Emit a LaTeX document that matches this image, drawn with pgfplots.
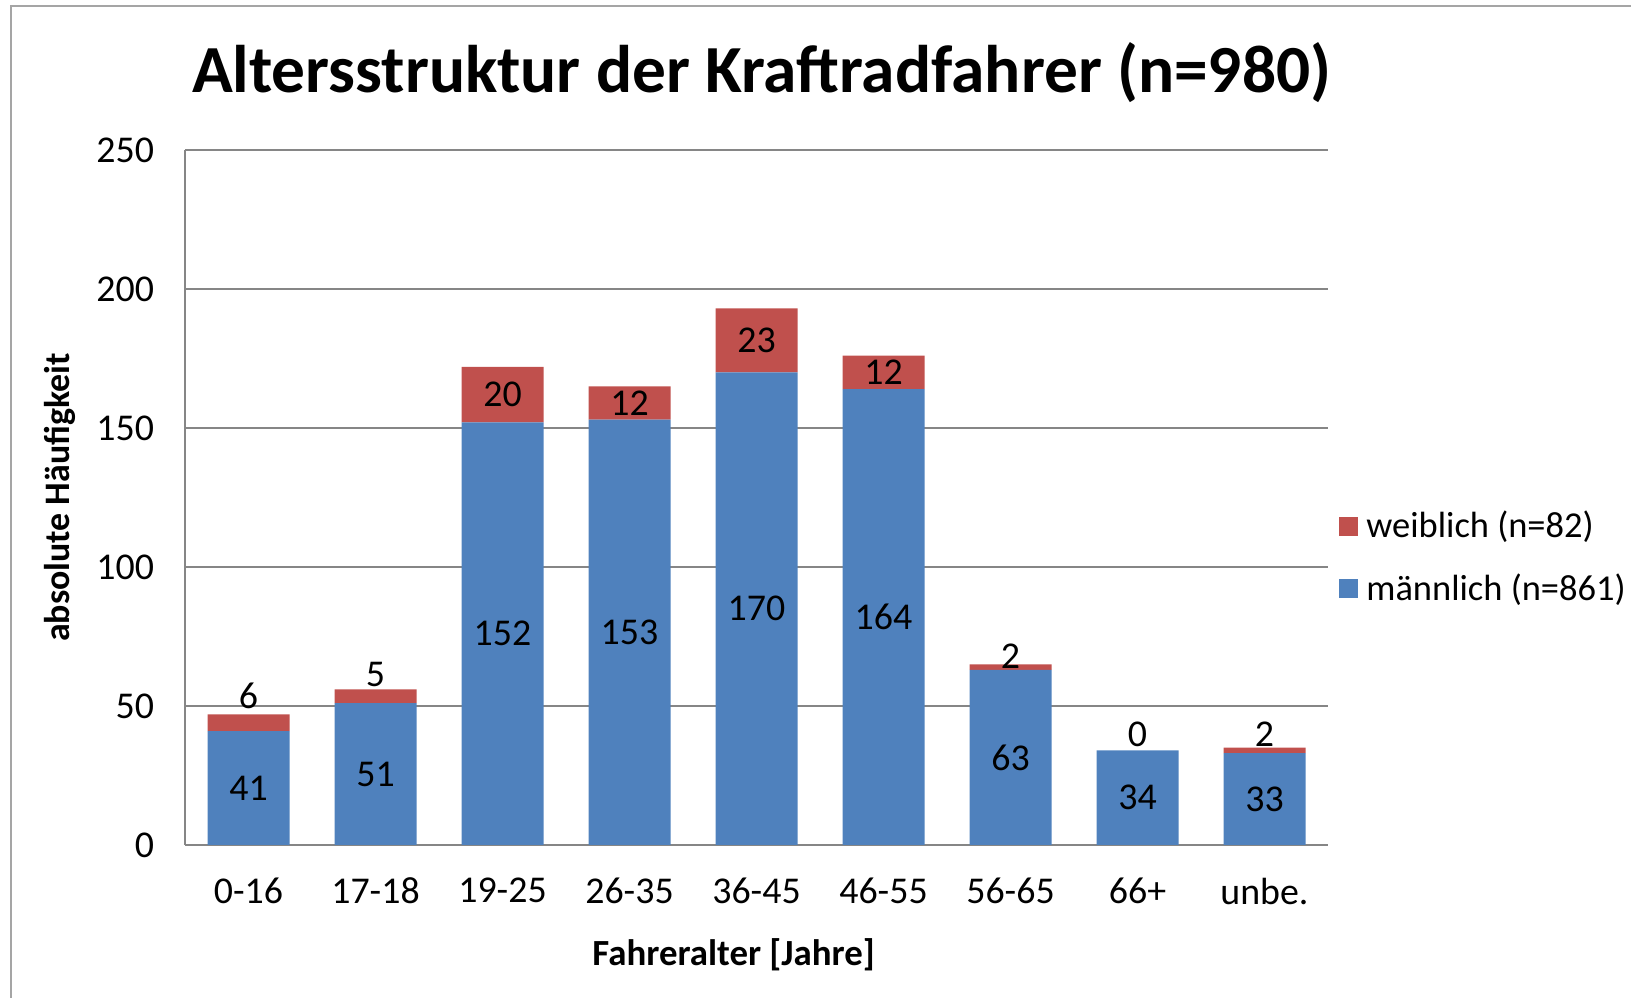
\documentclass[border=0pt]{standalone}
\usepackage{pgfplots}
\pgfplotsset{compat=1.18}
\usepackage{pgfplotstable}
\usepackage{fontspec}
\setmainfont{Carlito}
\definecolor{mblue}{RGB}{79,129,189}
\definecolor{wred}{RGB}{192,80,77}
\definecolor{gridgray}{RGB}{134,134,134}
\definecolor{framegray}{RGB}{165,165,165}

\pgfplotstableread{
x m w
0 41 6
1 51 5
2 152 20
3 153 12
4 170 23
5 164 12
6 63 2
7 34 0
8 33 2
}\datatab

\pgfplotstableread{
x y lab
0 20.5 41
1 25.5 51
2 76 152
3 76.5 153
4 85 170
5 82 164
6 31.5 63
7 17 34
8 16.5 33
0 53.5 6
1 61.4 5
2 162 20
3 159 12
4 181.5 23
5 170 12
6 68 2
7 39.7 0
8 39.7 2
}\labtab

\begin{document}
\begin{tikzpicture}[x=1bp,y=1bp]
\useasboundingbox (0,0) rectangle (815.5,499);
\draw[framegray, line width=1.3bp] (5.5,-5) -- (5.5,496) -- (830,496);
\begin{axis}[
  at={(92.5bp,76.5bp)}, anchor=south west,
  scale only axis, width=571.5bp, height=347.5bp,
  ybar stacked, bar width=41bp,
  xmin=-0.5, xmax=8.5, ymin=0, ymax=250,
  xtick={0,...,8},
  xticklabels={0-16,17-18,19-25,26-35,36-45,46-55,56-65,66+,unbe.},
  ytick={0,50,...,250},
  ymajorgrids, grid style={gridgray, line width=1bp},
  axis x line*=bottom, axis y line*=left,
  axis line style={gridgray, line width=1bp, -},
  major tick length=0pt,
  tick label style={font=\fontsize{19}{22}\selectfont, text=black},
  /pgf/number format/assume math mode=true,
  xticklabel style={yshift=-13bp},
  yticklabel style={xshift=-12bp},
  xlabel={Fahreralter [Jahre]},
  ylabel={absolute Häufigkeit},
  x label style={at={(axis description cs:0.480,-0.158)}, anchor=center, font=\fontsize{18.5}{22}\selectfont\bfseries},
  y label style={at={(axis description cs:-0.1094,0.5)}, anchor=center, font=\fontsize{18}{22}\selectfont\bfseries},
  title={Altersstruktur der Kraftradfahrer (n=980)},
  title style={at={(axis description cs:0.5045,1.066)}, anchor=base, font=\fontsize{33.8}{40}\selectfont\bfseries},
  legend style={at={(axis description cs:1.0096,0.4137)}, anchor=west, draw=none, fill=none,
    font=\fontsize{18.3}{22}\selectfont, row sep=12.5bp, column sep=2bp, inner sep=0pt},
  legend cell align=left,
  reverse legend,
  legend image code/.code={\fill[#1] (0bp,-4.75bp) rectangle (9.5bp,4.75bp);},
]
\addplot[fill=mblue, draw=none] table[x=x, y=m] {\datatab};
\addplot[fill=wred, draw=none] table[x=x, y=w] {\datatab};
\legend{männlich (n=861), weiblich (n=82)}
\end{axis}
\begin{axis}[
  at={(92.5bp,76.5bp)}, anchor=south west,
  scale only axis, width=571.5bp, height=347.5bp,
  xmin=-0.5, xmax=8.5, ymin=0, ymax=250,
  hide axis, clip=false,
  point meta=explicit symbolic,
  nodes near coords,
  every node near coord/.append style={anchor=center, font=\fontsize{19}{22}\selectfont, text=black},
]
\addplot[draw=none, mark=none, nodes near coords] table[x=x, y=y, meta=lab] {\labtab};
\end{axis}
\end{tikzpicture}
\end{document}
